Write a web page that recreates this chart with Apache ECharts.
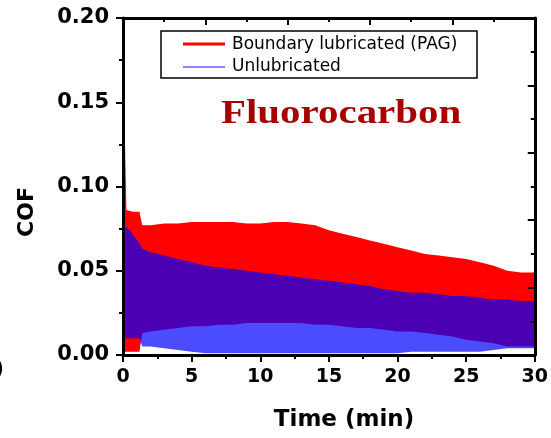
<!DOCTYPE html>
<html>
<head>
<meta charset="utf-8">
<script src="https://cdn.jsdelivr.net/npm/echarts@6/dist/echarts.min.js"></script>
<style>html,body{margin:0;padding:0;background:#fff}#c{width:551px;height:438px}</style>
</head>
<body>
<div id="c"></div>
<script>
// Time (min) sample points of the envelopes
const time = [0, 0.15, 0.25, 0.7, 1.2, 1.4, 2, 3, 4, 5, 6, 7, 8, 9, 10, 11, 12, 13, 14, 15, 16, 17, 18, 19, 20, 21, 22, 23, 24, 25, 26, 27, 28, 29, 30];
// Boundary lubricated (PAG): upper / lower envelope of COF
const redHigh = [0.126, 0.124, 0.086, 0.085, 0.085, 0.077, 0.077, 0.078, 0.078, 0.079, 0.079, 0.079, 0.079, 0.078, 0.078, 0.079, 0.079, 0.078, 0.077, 0.074, 0.072, 0.070, 0.068, 0.066, 0.064, 0.062, 0.060, 0.059, 0.058, 0.057, 0.055, 0.053, 0.050, 0.049, 0.049];
const redLow  = [0.002, 0.002, 0.002, 0.002, 0.002, 0.013, 0.014, 0.015, 0.016, 0.017, 0.017, 0.018, 0.018, 0.019, 0.019, 0.019, 0.019, 0.019, 0.018, 0.018, 0.017, 0.016, 0.016, 0.015, 0.014, 0.014, 0.013, 0.012, 0.011, 0.009, 0.008, 0.007, 0.005, 0.005, 0.005];
// Unlubricated: upper / lower envelope of COF
const blueHigh = [0.076, 0.076, 0.076, 0.072, 0.066, 0.063, 0.061, 0.059, 0.057, 0.055, 0.053, 0.052, 0.051, 0.050, 0.049, 0.048, 0.047, 0.046, 0.045, 0.044, 0.043, 0.042, 0.041, 0.039, 0.038, 0.037, 0.037, 0.036, 0.035, 0.035, 0.034, 0.033, 0.033, 0.032, 0.032];
const blueLow  = [0.010, 0.010, 0.010, 0.010, 0.010, 0.005, 0.005, 0.004, 0.003, 0.002, 0.001, 0.001, 0.001, 0.001, 0.001, 0.001, 0.001, 0.001, 0.001, 0.001, 0.001, 0.001, 0.001, 0.001, 0.001, 0.002, 0.002, 0.002, 0.002, 0.002, 0.002, 0.003, 0.004, 0.004, 0.004];
const seriesNames = ['Boundary lubricated (PAG)', 'Unlubricated'];
const xTicks = [0, 30, 5];
const yTicks = [0, 0.20, 0.05];

function bandSeries(name, hi, lo, color, opacity, z) {
  return {
    type: 'custom', name: name, coordinateSystem: 'cartesian2d', silent: true, z: z, clip: true,
    data: time.map((t, i) => [t, hi[i], lo[i]]),
    encode: {x: 0, y: [1, 2]},
    renderItem: function (params, api) {
      if (params.dataIndex !== 0) return null;
      const pts = [];
      for (let i = 0; i < time.length; i++) pts.push(api.coord([time[i], hi[i]]));
      for (let i = time.length - 1; i >= 0; i--) pts.push(api.coord([time[i], lo[i]]));
      return {type: 'polygon', shape: {points: pts}, style: {fill: color, opacity: opacity, stroke: null}};
    }
  };
}

const chart = echarts.init(document.getElementById('c'), null, {renderer: 'canvas'});
const sans = 'DejaVu Sans';
const axisCommon = {
  z: 10,
  axisLine: {show: true, onZero: false, lineStyle: {color: '#000', width: 3}},
  splitLine: {show: false}
};
chart.setOption({
  animation: false,
  grid: {left: 123, right: 15, top: 18, bottom: 83, containLabel: false},
  xAxis: [
    Object.assign({}, axisCommon, {
      type: 'value', position: 'bottom', min: xTicks[0], max: xTicks[1], interval: xTicks[2],
      axisTick: {show: true, inside: false, length: 7, lineStyle: {color: '#000', width: 2}},
      minorTick: {show: true, splitNumber: 2, length: 4, lineStyle: {color: '#000', width: 2}},
      axisLabel: {color: '#000', fontFamily: sans, fontWeight: 'bold', fontSize: 19, margin: 13}
    }),
    Object.assign({}, axisCommon, {
      type: 'value', position: 'top', min: 0, max: 30, interval: 6,
      axisTick: {show: true, inside: true, length: 7, lineStyle: {color: '#000', width: 2}},
      minorTick: {show: true, splitNumber: 2, length: 4, lineStyle: {color: '#000', width: 2}},
      axisLabel: {show: false}
    })
  ],
  yAxis: [
    Object.assign({}, axisCommon, {
      type: 'value', position: 'left', min: yTicks[0], max: yTicks[1], interval: yTicks[2],
      axisTick: {show: true, inside: false, length: 7, lineStyle: {color: '#000', width: 2}},
      minorTick: {show: true, splitNumber: 2, length: 4, lineStyle: {color: '#000', width: 2}},
      axisLabel: {color: '#000', fontFamily: sans, fontWeight: 'bold', fontSize: 21, margin: 14,
        formatter: v => v.toFixed(2)}
    }),
    Object.assign({}, axisCommon, {
      type: 'value', position: 'right', min: 0, max: 0.2, interval: 0.04,
      axisTick: {show: true, inside: true, length: 7, lineStyle: {color: '#000', width: 2}},
      minorTick: {show: true, splitNumber: 2, length: 4, lineStyle: {color: '#000', width: 2}},
      axisLabel: {show: false}
    })
  ],
  series: [
    bandSeries(seriesNames[0], redHigh, redLow, '#ff0000', 1, 1),
    bandSeries(seriesNames[1], blueHigh, blueLow, '#0000ff', 0.7, 2)
  ],
  graphic: [
    {type: 'rect', shape: {x: 161, y: 31, width: 316, height: 47},
      style: {fill: '#fff', stroke: '#000', lineWidth: 1.5}, z: 20},
    {type: 'line', shape: {x1: 183, y1: 44, x2: 225, y2: 44}, style: {stroke: '#ff0000', lineWidth: 3}, z: 21},
    {type: 'line', shape: {x1: 183, y1: 67, x2: 225, y2: 67}, style: {stroke: '#6060ff', lineWidth: 1.5}, z: 21},
    {type: 'text', x: 232, y: 45, z: 21,
      style: {text: seriesNames[0], font: '17px "DejaVu Sans"', fill: '#000', textVerticalAlign: 'middle'}},
    {type: 'text', x: 232, y: 67, z: 21,
      style: {text: seriesNames[1], font: '17px "DejaVu Sans"', fill: '#000', textVerticalAlign: 'middle'}},
    {type: 'text', x: 221, y: 114, scaleX: 1.24, originX: 0, originY: 0, z: 21,
      style: {text: 'Fluorocarbon', font: 'bold 33px "Liberation Serif"', fill: '#a80000', textVerticalAlign: 'middle'}},
    {type: 'text', x: 344, y: 420, z: 21,
      style: {text: 'Time (min)', font: 'bold 23px "DejaVu Sans"', fill: '#000', textAlign: 'center', textVerticalAlign: 'middle'}},
    {type: 'text', x: 27, y: 212, rotation: Math.PI / 2, z: 21,
      style: {text: 'COF', font: 'bold 22px "DejaVu Sans"', fill: '#000', textAlign: 'center', textVerticalAlign: 'middle'}},
    {type: 'text', x: -6, y: 369, z: 21,
      style: {text: ')', font: 'bold 22px "DejaVu Sans"', fill: '#000', textVerticalAlign: 'middle'}}
  ]
});
</script>
</body>
</html>
